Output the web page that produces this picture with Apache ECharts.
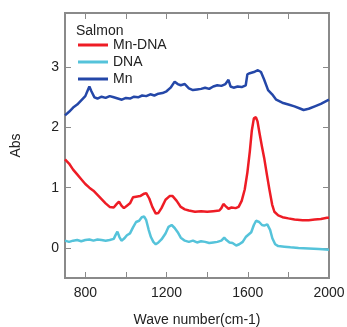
<!DOCTYPE html>
<html><head><meta charset="utf-8">
<script src="https://cdn.jsdelivr.net/npm/echarts@6/dist/echarts.min.js"></script>
<style>html,body{margin:0;padding:0;background:#fff}#c{width:347px;height:327px}</style>
</head><body><div id="c"></div>
<script>
const seriesNames = ["Mn-DNA", "DNA", "Mn"];
const xTicks = [800, 1000, 1200, 1400, 1600, 1800, 2000];
const xLabels = [800, 1200, 1600, 2000];
const yTicks = [0, 1, 2, 3];

const mnWave = [700,720,740,760,780,800,810,820,830,845,860,880,900,920,940,960,980,1000,1020,1040,1060,1080,1100,1120,1140,1160,1180,1200,1220,1240,1255,1270,1290,1310,1330,1350,1370,1390,1410,1430,1450,1470,1490,1505,1515,1530,1550,1570,1590,1598,1610,1630,1650,1665,1680,1700,1720,1740,1770,1800,1830,1860,1875,1900,1930,1960,2000];
const mnAbs  = [2.20,2.26,2.33,2.38,2.45,2.52,2.60,2.68,2.60,2.50,2.48,2.51,2.49,2.52,2.50,2.48,2.46,2.49,2.48,2.51,2.50,2.53,2.52,2.55,2.53,2.56,2.57,2.60,2.66,2.76,2.72,2.70,2.72,2.65,2.62,2.63,2.64,2.66,2.64,2.68,2.70,2.69,2.72,2.79,2.68,2.66,2.68,2.67,2.70,2.88,2.90,2.92,2.95,2.92,2.80,2.62,2.55,2.46,2.41,2.38,2.35,2.31,2.29,2.31,2.35,2.39,2.46];

const mndnaWave = [700,720,740,760,780,800,820,840,860,880,900,920,940,955,966,978,990,1005,1020,1035,1050,1070,1090,1100,1115,1130,1147,1160,1175,1195,1215,1230,1250,1270,1290,1310,1340,1370,1400,1430,1460,1470,1480,1492,1505,1520,1540,1555,1570,1585,1598,1610,1620,1630,1640,1648,1657,1670,1681,1695,1706,1720,1731,1750,1771,1800,1830,1870,1900,1930,1960,1990,2000];
const mndnaAbs  = [1.47,1.40,1.30,1.22,1.14,1.06,1.00,0.95,0.88,0.81,0.74,0.68,0.67,0.73,0.77,0.70,0.66,0.70,0.74,0.84,0.85,0.86,0.90,0.91,0.82,0.68,0.57,0.58,0.66,0.80,0.86,0.86,0.78,0.68,0.64,0.62,0.60,0.61,0.60,0.61,0.62,0.66,0.73,0.69,0.65,0.67,0.66,0.68,0.78,0.97,1.25,1.60,1.95,2.15,2.17,2.10,1.92,1.68,1.49,1.20,0.98,0.72,0.60,0.54,0.51,0.49,0.47,0.46,0.46,0.47,0.48,0.50,0.50];

const dnaWave = [700,720,740,760,780,800,820,840,860,880,900,920,940,950,958,968,978,990,1005,1020,1035,1050,1065,1078,1090,1100,1112,1123,1135,1147,1160,1175,1195,1210,1225,1240,1255,1270,1290,1310,1330,1350,1370,1390,1410,1430,1450,1470,1484,1495,1510,1525,1543,1558,1575,1590,1600,1617,1630,1641,1656,1670,1681,1696,1710,1721,1735,1750,1780,1810,1850,1900,1950,2000];
const dnaAbs  = [0.12,0.10,0.12,0.13,0.11,0.13,0.14,0.12,0.14,0.13,0.12,0.13,0.15,0.22,0.27,0.18,0.12,0.15,0.21,0.24,0.34,0.43,0.45,0.51,0.52,0.46,0.30,0.18,0.10,0.06,0.09,0.14,0.24,0.35,0.38,0.33,0.26,0.17,0.12,0.10,0.12,0.09,0.11,0.10,0.08,0.09,0.10,0.12,0.17,0.13,0.09,0.08,0.04,0.06,0.10,0.18,0.21,0.26,0.38,0.45,0.43,0.38,0.37,0.39,0.30,0.16,0.06,0.03,0.02,0.01,0.00,-0.01,-0.02,-0.03];

const zip = (a, b) => a.map((v, i) => [v, b[i]]);
const colors = ["#ee1c25", "#55c3da", "#2447a8"];
const FONT = "Liberation Sans";
const axisGray = "#8a8a8a";

const chart = echarts.init(document.getElementById('c'), null, {renderer: 'canvas'});
const baseX = {
  type: 'value', min: 700, max: 2000,
  axisLine: {show: true, onZero: false, lineStyle: {color: axisGray, width: 2}},
  axisTick: {show: true, inside: true, length: 6, customValues: xTicks, lineStyle: {color: axisGray, width: 1}},
  splitLine: {show: false}
};
const baseY = {
  type: 'value', min: -0.5, max: 3.9,
  axisLine: {show: true, onZero: false, lineStyle: {color: axisGray, width: 2}},
  axisTick: {show: true, inside: true, length: 6, customValues: yTicks, lineStyle: {color: axisGray, width: 1}},
  splitLine: {show: false}
};
chart.setOption({
  animation: false,
  backgroundColor: '#fff',
  title: {text: 'Salmon', left: 71, top: 19, textStyle: {fontFamily: FONT, fontSize: 14, fontWeight: 'normal', color: '#222'}},
  legend: {
    data: seriesNames, orient: 'vertical', left: 73, top: 33,
    icon: 'rect', itemWidth: 30, itemHeight: 3, itemGap: 3,
    textStyle: {fontFamily: FONT, fontSize: 14, color: '#222', lineHeight: 14}
  },
  grid: {left: 65, right: 18, top: 13, bottom: 49, containLabel: false, outerBoundsMode: 'none',
         show: true, borderColor: axisGray, borderWidth: 2, backgroundColor: 'transparent'},
  xAxis: [
    Object.assign({}, baseX, {
      position: 'bottom', name: 'Wave number(cm-1)', nameLocation: 'middle', nameGap: 35,
      nameTextStyle: {fontFamily: FONT, fontSize: 14, color: '#222'},
      axisLabel: {customValues: xLabels, formatter: function (v) { return '' + v; }, fontFamily: FONT, fontSize: 14, color: '#222', margin: 8}
    }),
    Object.assign({}, baseX, {position: 'top', axisLabel: {show: false}})
  ],
  yAxis: [
    Object.assign({}, baseY, {
      position: 'left', name: 'Abs', nameLocation: 'middle', nameGap: 42,
      nameTextStyle: {fontFamily: FONT, fontSize: 14, color: '#222'},
      axisLabel: {customValues: yTicks, fontFamily: FONT, fontSize: 14, color: '#222', margin: 6}
    }),
    Object.assign({}, baseY, {position: 'right', axisLabel: {show: false}})
  ],
  series: [
    {name: 'Mn-DNA', type: 'line', data: zip(mndnaWave, mndnaAbs), showSymbol: false, lineStyle: {color: colors[0], width: 2.5}, itemStyle: {color: colors[0]}},
    {name: 'DNA', type: 'line', data: zip(dnaWave, dnaAbs), showSymbol: false, lineStyle: {color: colors[1], width: 2.5}, itemStyle: {color: colors[1]}},
    {name: 'Mn', type: 'line', data: zip(mnWave, mnAbs), showSymbol: false, lineStyle: {color: colors[2], width: 2.5}, itemStyle: {color: colors[2]}}
  ]
});
</script></body></html>
